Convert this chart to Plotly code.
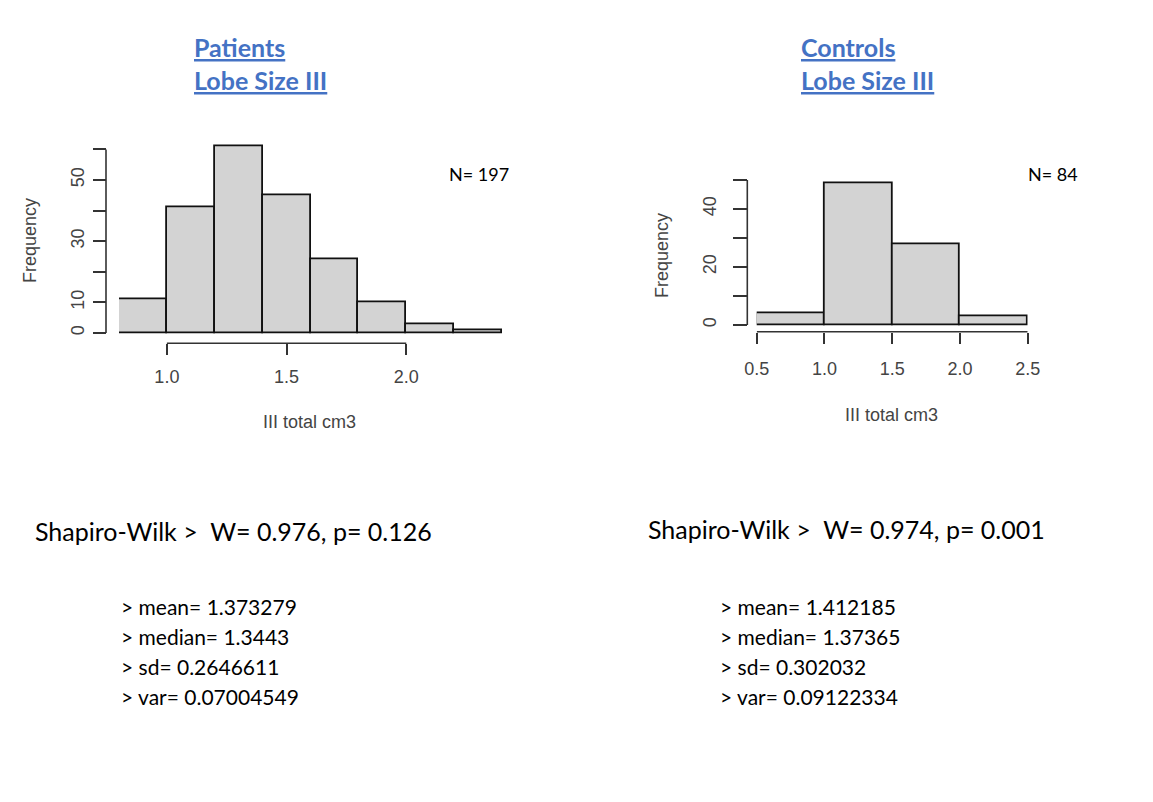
import plotly.graph_objects as go

W, H = 1153, 802

# ---- data ----
pat_edges = [0.8, 1.0, 1.2, 1.4, 1.6, 1.8, 2.0, 2.2, 2.4]
pat_counts = [11, 41, 61, 45, 24, 10, 3, 1]
pat_yticks = [0, 10, 20, 30, 40, 50, 60]
pat_ylabels = ["0", "10", "", "30", "", "50", ""]
pat_xticks = [1.0, 1.5, 2.0]
pat_xlabels = ["1.0", "1.5", "2.0"]

ctl_edges = [0.5, 1.0, 1.5, 2.0, 2.5]
ctl_counts = [4, 49, 28, 3]
ctl_yticks = [0, 10, 20, 30, 40, 50]
ctl_ylabels = ["0", "", "20", "", "40", ""]
ctl_xticks = [0.5, 1.0, 1.5, 2.0, 2.5]
ctl_xlabels = ["0.5", "1.0", "1.5", "2.0", "2.5"]

pat_title = ["Patients", "Lobe Size III"]
ctl_title = ["Controls", "Lobe Size III"]
pat_n = "N= 197"
ctl_n = "N= 84"
pat_sw = "Shapiro-Wilk >  W= 0.976, p= 0.126"
ctl_sw = "Shapiro-Wilk >  W= 0.974, p= 0.001"
pat_stats = ["> mean= 1.373279", "> median= 1.3443", "> sd= 0.2646611", "> var= 0.07004549"]
ctl_stats = ["> mean= 1.412185", "> median= 1.37365", "> sd= 0.302032", "> var= 0.09122334"]
xlab = "III total cm3"
ylab = "Frequency"

OFF_X, OFF_Y = 8, 8
TXT_DX = -2


def px(x):
    return (x - OFF_X) / W


def py(y):
    return 1 - (y - OFF_Y) / H


fig = go.Figure()


def centers(e):
    return [(e[i] + e[i + 1]) / 2 for i in range(len(e) - 1)]


def widths(e):
    return [e[i + 1] - e[i] for i in range(len(e) - 1)]


fig.add_trace(go.Bar(x=centers(pat_edges), y=pat_counts, width=widths(pat_edges),
                     marker=dict(color="#d3d3d3", line=dict(color="#111", width=1.8)),
                     xaxis="x", yaxis="y", showlegend=False))
fig.add_trace(go.Bar(x=centers(ctl_edges), y=ctl_counts, width=widths(ctl_edges),
                     marker=dict(color="#d3d3d3", line=dict(color="#111", width=1.8)),
                     xaxis="x2", yaxis="y2", showlegend=False))

axfont = dict(family="Liberation Sans, Arial", size=18, color="#444")
common = dict(showgrid=False, zeroline=False, showline=False, ticks="outside", automargin=False,
              tickwidth=1.6, tickcolor="#333", tickfont=axfont)

# left panel geometry (pixels)
L_x0, L_x1 = 119.0, 502.0          # 0.8 -> 2.4
L_y0 = 333.0                        # y=0
L_unit = 3.06
L_ymin, L_ymax = -1, 62
L_yax, L_xax = 106.0, 343.3
# right panel geometry
R_x0, R_x1 = 756.7, 1027.7          # 0.5 -> 2.5
R_y0 = 325.0
R_unit = 2.9
R_ymin, R_ymax = -1, 52
R_yax, R_xax = 747.3, 331.7

fig.update_layout(
    width=W, height=H,
    margin=dict(l=0, r=0, t=0, b=0, pad=0, autoexpand=False),
    paper_bgcolor="white", plot_bgcolor="rgba(0,0,0,0)",
    bargap=0,
    xaxis=dict(domain=[px(L_x0), px(L_x1)], range=[pat_edges[0], pat_edges[-1]],
               anchor="free", position=py(L_xax), ticklen=11,
               tickvals=pat_xticks, ticktext=pat_xlabels, ticklabelstandoff=6, **common),
    yaxis=dict(domain=[py(L_y0 - L_ymin * L_unit), py(L_y0 - L_ymax * L_unit)],
               range=[L_ymin, L_ymax], anchor="free", position=px(L_yax), ticklen=13,
               tickvals=pat_yticks, ticktext=pat_ylabels, tickangle=-90, ticklabelstandoff=2, **common),
    xaxis2=dict(domain=[px(R_x0), px(R_x1)], range=[ctl_edges[0], ctl_edges[-1]],
                anchor="free", position=py(R_xax), ticklen=11,
                tickvals=ctl_xticks, ticktext=ctl_xlabels, ticklabelstandoff=10, **common),
    yaxis2=dict(domain=[py(R_y0 - R_ymin * R_unit), py(R_y0 - R_ymax * R_unit)],
                range=[R_ymin, R_ymax], anchor="free", position=px(R_yax), ticklen=14,
                tickvals=ctl_yticks, ticktext=ctl_ylabels, tickangle=-90, ticklabelstandoff=10, **common),
)

# R-style detached axis lines
line = dict(color="#333", width=1.6)
fig.add_shape(type="line", xref="x", yref="paper", x0=pat_xticks[0], x1=pat_xticks[-1],
              y0=py(L_xax), y1=py(L_xax), line=line)
fig.add_shape(type="line", xref="paper", yref="y", x0=px(L_yax), x1=px(L_yax),
              y0=pat_yticks[0], y1=pat_yticks[-1], line=line)
fig.add_shape(type="line", xref="x2", yref="paper", x0=ctl_xticks[0], x1=ctl_xticks[-1],
              y0=py(R_xax), y1=py(R_xax), line=line)
fig.add_shape(type="line", xref="paper", yref="y2", x0=px(R_yax), x1=px(R_yax),
              y0=ctl_yticks[0], y1=ctl_yticks[-1], line=line)

ann = []
labfont = dict(family="Liberation Sans, Arial", size=18, color="#444")
# axis titles
ann.append(dict(x=px(309), y=py(422), text=xlab, font=labfont))
ann.append(dict(x=px(30), y=py(241), text=ylab, font=labfont, textangle=-90))
ann.append(dict(x=px(891), y=py(415), text=xlab, font=labfont))
ann.append(dict(x=px(662), y=py(256), text=ylab, font=labfont, textangle=-90))

# titles
tfont = dict(family="Lato, Open Sans", size=25, color="#4472C4", weight="bold", lineposition="under")
for i, t in enumerate(pat_title):
    ann.append(dict(x=px(194 + TXT_DX), y=py(47 + 33 * i), text=t, font=tfont, xanchor="left"))
for i, t in enumerate(ctl_title):
    ann.append(dict(x=px(801 + TXT_DX), y=py(47 + 33 * i), text=t, font=tfont, xanchor="left"))

nfont = dict(family="Lato, Open Sans", size=18, color="black")
ann.append(dict(x=px(449 + TXT_DX), y=py(174), text=pat_n, font=nfont, xanchor="left"))
ann.append(dict(x=px(1028 + TXT_DX), y=py(174), text=ctl_n, font=nfont, xanchor="left"))

swfont = dict(family="Lato, Open Sans", size=25, color="black")
ann.append(dict(x=px(35 + TXT_DX), y=py(531), text=pat_sw, font=swfont, xanchor="left"))
ann.append(dict(x=px(648 + TXT_DX), y=py(529), text=ctl_sw, font=swfont, xanchor="left"))

sfont = dict(family="Lato, Open Sans", size=21, color="black")
for i, s in enumerate(pat_stats):
    ann.append(dict(x=px(121 + TXT_DX), y=py(606 + 30 * i), text=s, font=sfont, xanchor="left"))
for i, s in enumerate(ctl_stats):
    ann.append(dict(x=px(720 + TXT_DX), y=py(606 + 30 * i), text=s, font=sfont, xanchor="left"))

for a in ann:
    a.update(xref="paper", yref="paper", showarrow=False)
    a.setdefault("xanchor", "center")
    a.setdefault("yanchor", "middle")
fig.update_layout(annotations=ann)

fig.write_html("out.html")
